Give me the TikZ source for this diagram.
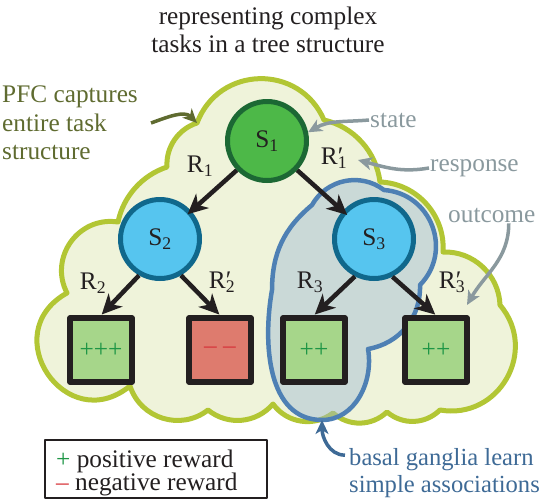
\documentclass[tikz,border=0pt]{standalone}
\usepackage{fontspec}
\setmainfont{Liberation Serif}
\usepackage{xcolor}
\usepackage{tikz}
\usetikzlibrary{arrows.meta}

\definecolor{pfcfill}{RGB}{239,243,218}
\definecolor{pfcline}{RGB}{178,198,52}
\definecolor{bgfill}{RGB}{159,186,213}
\definecolor{bgline}{RGB}{78,128,180}
\definecolor{rootfill}{RGB}{77,184,72}
\definecolor{rootline}{RGB}{28,104,52}
\definecolor{innerfill}{RGB}{86,197,239}
\definecolor{innerline}{RGB}{16,104,140}
\definecolor{goodfill}{RGB}{166,214,138}
\definecolor{badfill}{RGB}{222,123,110}
\definecolor{plus}{RGB}{30,150,70}
\definecolor{minus}{RGB}{215,55,60}
\definecolor{ink}{RGB}{35,31,32}
\definecolor{pfctext}{RGB}{95,107,48}
\definecolor{notegray}{RGB}{138,153,158}
\definecolor{bgtext}{RGB}{62,106,150}

\newcommand{\rprime}[1]{R\rlap{′}\textsubscript{#1}}

\begin{document}
\begin{tikzpicture}[x=1pt, y=-1pt, >={Stealth[length=20pt,width=19pt,inset=6pt]},
                    font=\fontsize{25.3}{28.5}\selectfont, line join=round,
                    statenode/.style={circle, line width=5pt, minimum size=79pt, inner sep=0pt, text=ink},
                    outbox/.style={rectangle, draw=ink, line width=5.5pt, minimum width=62pt, minimum height=64pt, inner sep=0pt},
                    move/.style={->, draw=ink, line width=4.5pt},
                    rlabel/.style={text=ink, inner sep=0pt},
                    notetext/.style={inner sep=1pt, align=left},
                    note/.style={line width=3.5pt, -{Stealth[length=14pt,width=13pt,inset=4pt]}}]
                    \useasboundingbox (0,0) rectangle (544,499);

                    % Clouds
                    \draw[pfcline, fill=pfcfill, line width=5pt] (197,123) coordinate (pfctip)
                        to[bend left=68, looseness=1.24] (324,120)
                        to[bend left=35, looseness=0.94] (380,182)
                        to[bend left=46] (443,252)
                        to[bend left=45] (500,305)
                        to[bend left=70, looseness=1.27] (440,410)
                        to[bend left=42] (387,412)
                        to[bend left=42] (333,413)
                        to[bend left=46] (273,404)
                        to[bend left=44] (208,410)
                        to[bend left=55, looseness=1.08] (130,386)
                        to[bend left=95, looseness=1.87] (67,293)
                        to[bend left=63, looseness=1.17] (118,222)
                        to[bend left=30, looseness=0.91] (167,167)
                        to[bend left=38, looseness=0.95] (197,123) -- cycle;
                    \draw[bgline, line width=4.5pt, fill=bgfill, fill opacity=0.45] (272,290)
                        to[bend left=25] (312,205)
                        to[bend left=49, looseness=1.03] (384,190)
                        to[bend left=65, looseness=1.2] (420,285)
                        to[bend left=41] (368,349)
                        to[out=-80, in=0] (322,420) coordinate (bgtip)
                        to[out=180, in=-100] (272,290) -- cycle;

                    % Nodes
                    \node[statenode, fill=rootfill, draw=rootline] (S1) at (267,141) {S\textsubscript{1}};
                    \node[statenode, fill=innerfill, draw=innerline] (S2) at (160,239) {S\textsubscript{2}};
                    \node[statenode, fill=innerfill, draw=innerline] (S3) at (374,239) {S\textsubscript{3}};

                    \node[outbox, fill=goodfill, text=plus] (O1) at (101,350) {+++};
                    \node[outbox, fill=badfill, text=minus] (O2) at (220,350) {\textendash\ \textendash};
                    \node[outbox, fill=goodfill, text=plus] (O3) at (314,350) {++};
                    \node[outbox, fill=goodfill, text=plus] (O4) at (436,350) {++};

                    \node[rlabel] (r1) at (200,166) {R\textsubscript{1}};
                    \node[rlabel] (r1p) at (334,158) {\rprime{1}};
                    \node[rlabel] (r2) at (93,283) {R\textsubscript{2}};
                    \node[rlabel] (r2p) at (222,282) {\rprime{2}};
                    \node[rlabel] (r3) at (310,282) {R\textsubscript{3}};
                    \node[rlabel] (r3p) at (452,282) {\rprime{3}};

                    % Edges
                    \draw[move, shorten >=-5pt] (S1.-136) -- (S2);
                    \draw[move, shorten >=-6pt] (S1.-44) -- (S3);
                    \draw[move, shorten >=1pt] (S2.-120) -- (O1.north);
                    \draw[move, shorten >=1pt] (S2.-60) -- (O2.north);
                    \draw[move, shorten >=1pt] (S3.-117) -- (O3.north);
                    \draw[move, shorten >=1pt] (S3.-64) -- (O4.north);

                    % Annotations
                    \node[text=ink, align=center, inner sep=0pt] (title) at (268,30) {representing complex\\tasks in a tree structure};
                    \node[notetext, text=pfctext, anchor=west] (pfc) at (1,123) {PFC captures\\entire task\\structure};
                    \node[notetext, text=notegray, anchor=west] (state) at (369,120) {state};
                    \node[notetext, text=notegray, anchor=west] (response) at (429,168) {response};
                    \node[notetext, text=notegray, anchor=west] (outcome) at (447,215) {outcome};
                    \node[notetext, text=bgtext, anchor=west, font=\fontsize{24.6}{27}\selectfont] (bg) at (348,473) {basal ganglia learn\\simple associations};
                    \coordinate (resptip) at (358,160);
                    \coordinate (outtip) at (467,305);

                    \draw[note, pfctext] ([xshift=12pt]pfc.east) to[out=20, in=135] (pfctip);
                    \draw[note, notegray] (state.west) to[out=185, in=30] (S1.12);
                    \draw[note, notegray] (response.west) to[out=190, in=-15] (resptip);
                    \draw[note, notegray] ([xshift=17pt]outcome.south) to[out=-90, in=60] (outtip);
                    \draw[note, bgtext] ([xshift=-3pt, yshift=-8pt]bg.north west) to[out=180, in=-90] (bgtip);

                    % Legend
                    \node[draw=ink, line width=1.5pt, minimum width=222pt, minimum height=58pt] (key) at (156,469) {};
                    \node[notetext, text=ink, anchor=west, font=\fontsize{25.3}{23}\selectfont] (keytext) at (55,472.5) {{\color{plus}+} positive reward\\{\color{minus}\textendash} negative reward};
                \end{tikzpicture}
\end{document}
